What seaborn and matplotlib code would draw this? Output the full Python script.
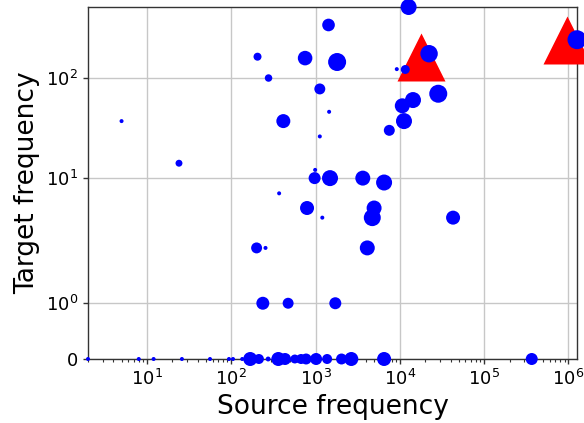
import numpy as np
import pandas as pd
import seaborn as sns
import matplotlib
matplotlib.use("Agg")
import matplotlib.pyplot as plt
from matplotlib.ticker import NullLocator

# blue points: source / target frequency, marker weight (area)
source = [12700, 1426, 1.263e6, 22220, 205, 752, 1803, 9200, 11600, 277,
          1124, 28560, 14320, 10690, 1449, 5, 415, 11200, 7499, 1124,
          24, 989, 975, 1485, 3636, 6503, 370, 793, 4950, 4712,
          1203, 42800, 200, 255, 4111, 237, 473, 1716,
          2, 8, 12, 26, 56, 94, 105, 135, 168, 213, 274,
          362, 435, 568, 673, 773, 1016, 1372, 2033, 2656, 6503, 366800]
target = [486, 326, 235, 172, 161, 156, 143, 122, 121, 100,
          78.3, 70.3, 61, 53.6, 46.8, 37.9, 37.9, 37.9, 30.7, 26.7,
          14.3, 12.2, 10, 10, 10, 9.36, 7.94, 6.32, 6.32, 5.42,
          5.42, 5.42, 3.25, 3.25, 3.25, 1, 1, 1,
          0, 0, 0, 0, 0, 0, 0, 0, 0, 0, 0,
          0, 0, 0, 0, 0, 0, 0, 0, 0, 0, 0]
weight = [64, 40, 90, 76, 16, 53, 81, 4, 20, 14,
          30, 81, 64, 56, 4, 4, 49, 64, 30, 4,
          12, 4, 36, 64, 56, 64, 4, 49, 56, 72,
          4, 49, 30, 4, 56, 42, 30, 36,
          4, 4, 4, 4, 4, 4, 4, 4, 49, 25, 6,
          49, 36, 20, 25, 30, 36, 25, 30, 49, 49, 36]

# red reference triangles
ref_source = [18050, 972000]
ref_target = [160, 234]

y_ticks = [0, 1, 10, 100]
y_ticklabels = ["0", r"$10^{0}$", r"$10^{1}$", r"$10^{2}$"]

df = pd.DataFrame({"source": source, "target": target, "weight": weight})
ref = pd.DataFrame({"source": ref_source, "target": ref_target})

# y axis spacing as drawn in the original (0, 1, 10, 100 unevenly spaced)
_U = np.array([0.0, np.log10(2), np.log10(11), np.log10(101), 4.0])
_P = np.array([0.0, 55.7, 180.7, 280.7, 280.7 + (4.0 - np.log10(101)) * 103.85])


def fwd(y):
    u = np.log10(1 + np.clip(np.asarray(y, dtype=float), 0, None))
    return np.interp(u, _U, _P)


def inv(p):
    u = np.interp(np.asarray(p, dtype=float), _P, _U)
    return 10 ** u - 1


sns.set_theme(style="ticks", rc={"text.color": "black",
                                 "axes.labelcolor": "black",
                                 "xtick.color": "black",
                                 "ytick.color": "black"})
plt.rcParams["font.family"] = ["DejaVu Sans"]

fig = plt.figure(figsize=(5.84, 4.23), dpi=100)
ax = fig.add_axes([88 / 584, 1 - 359 / 423, 489 / 584, 352 / 423])

sns.scatterplot(data=ref, x="source", y="target", marker="^", s=1194,
                color="red", linewidth=0, clip_on=False, zorder=3, ax=ax)
sns.scatterplot(data=df, x="source", y="target", size="weight",
                sizes=(0, 207.4), size_norm=(0, 100), color="blue",
                linewidth=0, clip_on=False, legend=False, zorder=4, ax=ax)

ax.set_xscale("log")
ax.set_yscale("function", functions=(fwd, inv))
ax.set_xlim(min(source), max(source))
ax.set_ylim(0, max(target))
ax.set_yticks(y_ticks)
ax.set_yticklabels(y_ticklabels)
ax.yaxis.set_minor_locator(NullLocator())

ax.grid(True, which="major", color="0.78", linewidth=1)
ax.set_axisbelow(True)
for sp in ax.spines.values():
    sp.set_color("0.2")
    sp.set_linewidth(1)
ax.tick_params(axis="both", which="major", labelsize=13, length=3.5,
               width=1, color="0.2", labelcolor="black", direction="out")
ax.tick_params(axis="x", which="minor", length=2, width=0.8, color="0.2")

ax.set_xlabel("Source frequency", fontsize=19, color="black")
ax.set_ylabel("Target frequency", fontsize=19, color="black")

fig.savefig("out.png", dpi=100)
